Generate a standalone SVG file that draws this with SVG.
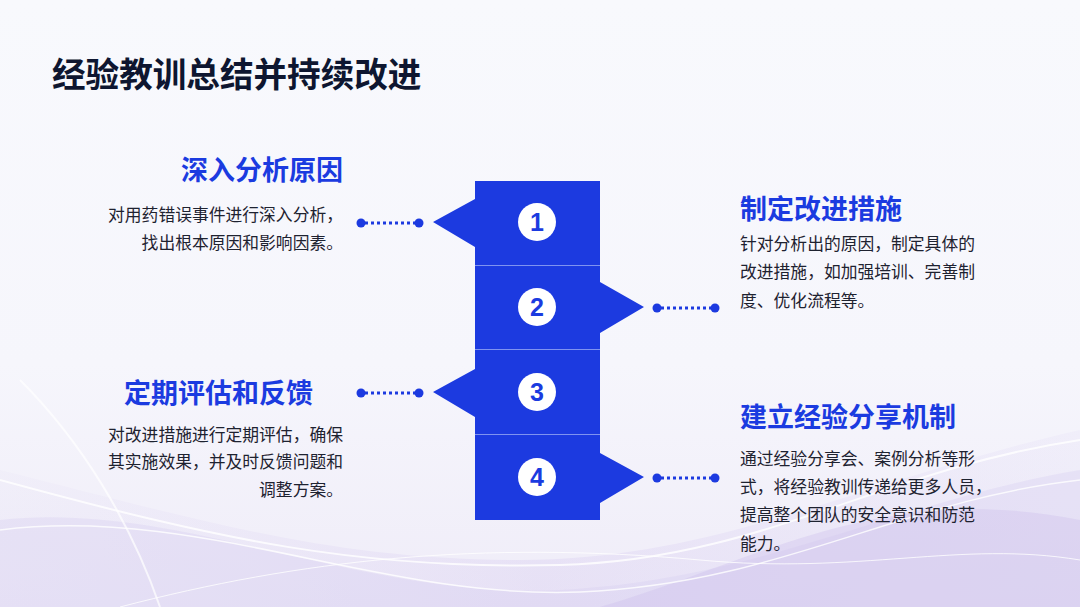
<svg xmlns="http://www.w3.org/2000/svg" width="1080" height="607" viewBox="0 0 1080 607">
<defs>
<linearGradient id="bg" x1="0" y1="0" x2="0" y2="1">
<stop offset="0" stop-color="#f8f9fd"/>
<stop offset="0.6" stop-color="#f6f6fc"/>
<stop offset="1" stop-color="#efecf8"/>
</linearGradient>
<linearGradient id="wave" x1="0" y1="0" x2="1" y2="0">
<stop offset="0" stop-color="#d9d0f0" stop-opacity="0.2"/>
<stop offset="0.5" stop-color="#c9b8ec" stop-opacity="0.5"/>
<stop offset="1" stop-color="#d6ccf2" stop-opacity="0.3"/>
</linearGradient>
<style>
.h{font-family:"Noto Sans CJK SC","Noto Sans",sans-serif;font-weight:700;font-size:27px;fill:#1b3be0}
.b{font-family:"Noto Sans CJK SC","Noto Sans",sans-serif;font-size:16.8px;fill:#1e2230}
.n{font-family:"Liberation Sans","Noto Sans",sans-serif;font-weight:700;font-size:25px;fill:#1b3be0}
.blk{fill:#1c3ae0}
.dot{fill:#1c3ae0}
.dl{stroke:#1c3ae0;stroke-width:3;stroke-dasharray:3 3;fill:none}
.w{fill:none;stroke:#ffffff;stroke-opacity:0.8}
</style>
</defs>
<rect width="1080" height="607" fill="url(#bg)"/>
<g id="background-waves">
<path d="M0 470 C200 520 330 560 520 560 C720 560 860 480 1080 430 L1080 607 L0 607 Z" fill="url(#wave)" opacity="0.45"/>
<path d="M0 520 C180 500 360 600 560 590 C760 580 900 500 1080 470 L1080 607 L0 607 Z" fill="#d8cdf1" opacity="0.35"/>
<path d="M600 607 C760 560 880 480 1080 520 L1080 607 Z" fill="#cbbcec" opacity="0.35"/>
<path class="w" stroke-width="2" d="M0 480 C220 540 360 570 560 565 C760 560 880 470 1080 440"/>
<path class="w" stroke-width="1.5" d="M0 530 C200 505 380 600 580 592 C780 584 900 500 1080 480"/>
<path class="w" stroke-width="1" d="M120 607 C300 560 480 540 700 560 C860 575 960 540 1080 560"/>
<path d="M20 380 C80 440 130 520 160 607" stroke="#ffffff" stroke-opacity="0.7" stroke-width="2" fill="none"/>
</g>
<text x="52" y="87" font-family="'Noto Sans CJK SC','Noto Sans',sans-serif" font-weight="700" font-size="33.6" fill="#0e1630">经验教训总结并持续改进</text>
<g id="column">
<polygon class="blk" points="475,181 600,181 600,265 475,265 475,247 433,222 475,199"/>
<polygon class="blk" points="475,266 600,266 600,282 644,307 600,333 600,349 475,349"/>
<polygon class="blk" points="475,350 600,350 600,434 475,434 475,417 433,392 475,369"/>
<polygon class="blk" points="475,435 600,435 600,453 644,477 600,503 600,520 475,520"/>
<line x1="475" y1="265.5" x2="600" y2="265.5" stroke="#7f93f0" stroke-width="1"/>
<line x1="475" y1="349.5" x2="600" y2="349.5" stroke="#7f93f0" stroke-width="1"/>
<line x1="475" y1="434.5" x2="600" y2="434.5" stroke="#7f93f0" stroke-width="1"/>
</g>
<g id="num1"><circle cx="537" cy="222" r="19" fill="#fff"/><text class="n" x="537" y="231" text-anchor="middle">1</text></g>
<g id="num2"><circle cx="537" cy="307" r="19" fill="#fff"/><text class="n" x="537" y="316" text-anchor="middle">2</text></g>
<g id="num3"><circle cx="537" cy="392" r="19" fill="#fff"/><text class="n" x="537" y="401" text-anchor="middle">3</text></g>
<g id="num4"><circle cx="537" cy="477" r="19" fill="#fff"/><text class="n" x="537" y="486" text-anchor="middle">4</text></g>
<g id="connectors">
<line class="dl" x1="365" y1="223" x2="415" y2="223"/><circle class="dot" cx="361" cy="223" r="4.5"/><circle class="dot" cx="419" cy="223" r="4.5"/>
<line class="dl" x1="661" y1="308" x2="711" y2="308"/><circle class="dot" cx="657" cy="308" r="4.5"/><circle class="dot" cx="715" cy="308" r="4.5"/>
<line class="dl" x1="365" y1="393" x2="415" y2="393"/><circle class="dot" cx="361" cy="393" r="4.5"/><circle class="dot" cx="419" cy="393" r="4.5"/>
<line class="dl" x1="661" y1="478" x2="711" y2="478"/><circle class="dot" cx="657" cy="478" r="4.5"/><circle class="dot" cx="715" cy="478" r="4.5"/>
</g>
<g id="item1" text-anchor="end">
<text class="h" x="343" y="180">深入分析原因</text>
<text class="b" x="343" y="221">对用药错误事件进行深入分析，</text>
<text class="b" x="343" y="249">找出根本原因和影响因素。</text>
</g>
<g id="item2">
<text class="h" x="740" y="219">制定改进措施</text>
<text class="b" x="740" y="250">针对分析出的原因，制定具体的</text>
<text class="b" x="740" y="278">改进措施，如加强培训、完善制</text>
<text class="b" x="740" y="307">度、优化流程等。</text>
</g>
<g id="item3" text-anchor="end">
<text class="h" x="313" y="403">定期评估和反馈</text>
<text class="b" x="343" y="441">对改进措施进行定期评估，确保</text>
<text class="b" x="343" y="468">其实施效果，并及时反馈问题和</text>
<text class="b" x="343" y="496">调整方案。</text>
</g>
<g id="item4">
<text class="h" x="740" y="427">建立经验分享机制</text>
<text class="b" x="740" y="465">通过经验分享会、案例分析等形</text>
<text class="b" x="740" y="493">式，将经验教训传递给更多人员，</text>
<text class="b" x="740" y="521">提高整个团队的安全意识和防范</text>
<text class="b" x="740" y="550">能力。</text>
</g>
</svg>
